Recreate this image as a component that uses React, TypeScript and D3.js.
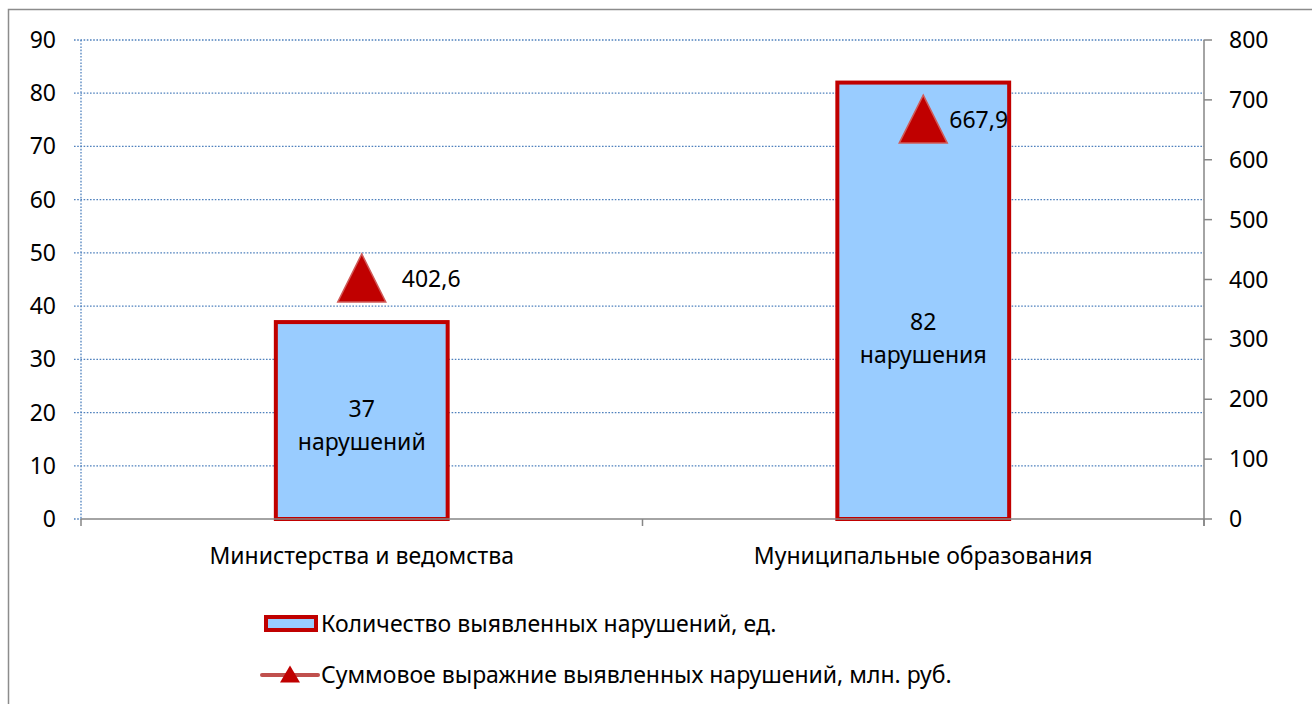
import React, { useEffect, useRef } from "react";
import * as d3 from "d3";

const categories = ["Министерства и ведомства", "Муниципальные образования"];
const violationCounts = [37, 82];
const violationSums = [402.6, 667.9];
const barLabelLines = [
  ["37", "нарушений"],
  ["82", "нарушения"],
];
const leftTicks = [0, 10, 20, 30, 40, 50, 60, 70, 80, 90];
const rightTicks = [0, 100, 200, 300, 400, 500, 600, 700, 800];
const legendLabels = [
  "Количество выявленных нарушений, ед.",
  "Суммовое выражние выявленных нарушений, млн. руб.",
];

const FONT = "'Noto Sans', sans-serif";
const FS = 23;

function App() {
  const svgRef = useRef<SVGSVGElement>(null);

  useEffect(() => {
    const width = 1312;
    const height = 704;
    const margin = { top: 40, left: 81, right: 1204, bottom: 519 };

    const svg = d3.select(svgRef.current);
    svg.selectAll("*").remove();
    svg.attr("width", width).attr("height", height);

    // outer chart frame (bottom/right edges fall outside the picture)
    svg
      .append("rect")
      .attr("x", 8.5)
      .attr("y", 9.5)
      .attr("width", 1400)
      .attr("height", 800)
      .attr("fill", "#fff")
      .attr("stroke", "#8c8c8c")
      .attr("stroke-width", 1.5);

    const x = d3
      .scaleBand()
      .domain(categories)
      .range([margin.left, margin.right])
      .paddingInner(0.694)
      .paddingOuter(0.347);
    const yLeft = d3.scaleLinear().domain([0, 90]).range([margin.bottom, margin.top]);
    const yRight = d3.scaleLinear().domain([0, 800]).range([margin.bottom, margin.top]);

    const dotted = { stroke: "#4f81bd", width: 1.3, dash: "1.6 1.6" };

    // horizontal gridlines
    svg
      .append("g")
      .selectAll("line")
      .data(leftTicks)
      .join("line")
      .attr("x1", margin.left - 7)
      .attr("x2", (d) => (d === 0 ? margin.left : margin.right))
      .attr("y1", (d) => yLeft(d))
      .attr("y2", (d) => yLeft(d))
      .attr("stroke", dotted.stroke)
      .attr("stroke-width", dotted.width)
      .attr("stroke-dasharray", dotted.dash);

    // left axis line (dotted)
    svg
      .append("line")
      .attr("x1", margin.left)
      .attr("x2", margin.left)
      .attr("y1", margin.top)
      .attr("y2", margin.bottom)
      .attr("stroke", dotted.stroke)
      .attr("stroke-width", dotted.width)
      .attr("stroke-dasharray", dotted.dash);

    // left tick labels
    svg
      .append("g")
      .selectAll("text")
      .data(leftTicks)
      .join("text")
      .attr("x", 56)
      .attr("y", (d) => yLeft(d))
      .attr("dy", "0.35em")
      .attr("text-anchor", "end")
      .attr("font-family", FONT)
      .attr("font-size", FS)
      .attr("fill", "#000")
      .text((d) => d);

    // right axis
    const gray = "#868686";
    svg
      .append("line")
      .attr("x1", margin.right)
      .attr("x2", margin.right)
      .attr("y1", margin.top)
      .attr("y2", margin.bottom + 7)
      .attr("stroke", gray)
      .attr("stroke-width", 1.5);
    const rt = svg.append("g").selectAll("g").data(rightTicks).join("g");
    rt.append("line")
      .attr("x1", margin.right)
      .attr("x2", margin.right + 8)
      .attr("y1", (d) => yRight(d))
      .attr("y2", (d) => yRight(d))
      .attr("stroke", gray)
      .attr("stroke-width", 1.5);
    rt.append("text")
      .attr("x", 1229)
      .attr("y", (d) => yRight(d))
      .attr("dy", "0.35em")
      .attr("font-family", FONT)
      .attr("font-size", FS)
      .attr("fill", "#000")
      .text((d) => d);

    // bars
    svg
      .append("g")
      .selectAll("rect")
      .data(violationCounts)
      .join("rect")
      .attr("x", (d, i) => x(categories[i])!)
      .attr("y", (d) => yLeft(d))
      .attr("width", x.bandwidth())
      .attr("height", (d) => yLeft(0) - yLeft(d))
      .attr("fill", "#99ccff")
      .attr("stroke", "#c00000")
      .attr("stroke-width", 4);

    // bottom axis
    svg
      .append("line")
      .attr("x1", margin.left)
      .attr("x2", margin.right)
      .attr("y1", margin.bottom)
      .attr("y2", margin.bottom)
      .attr("stroke", gray)
      .attr("stroke-width", 1.5);
    const boundaries = [margin.left, (margin.left + margin.right) / 2, margin.right];
    svg
      .append("g")
      .selectAll("line")
      .data(boundaries)
      .join("line")
      .attr("x1", (d) => d)
      .attr("x2", (d) => d)
      .attr("y1", margin.bottom)
      .attr("y2", margin.bottom + 7)
      .attr("stroke", gray)
      .attr("stroke-width", 1.5);

    // category labels
    svg
      .append("g")
      .selectAll("text")
      .data(categories)
      .join("text")
      .attr("x", (d) => x(d)! + x.bandwidth() / 2)
      .attr("y", 556)
      .attr("dy", "0.35em")
      .attr("text-anchor", "middle")
      .attr("font-family", FONT)
      .attr("font-size", FS)
      .text((d) => d);

    // labels inside bars (hand placed, as in the source)
    const barLabelTop = [yLeft(violationCounts[0]) + 87, yLeft(violationCounts[1]) + 239];
    barLabelLines.forEach((lines, i) => {
      const cx = x(categories[i])! + x.bandwidth() / 2;
      lines.forEach((t, j) => {
        svg
          .append("text")
          .attr("x", cx)
          .attr("y", barLabelTop[i] + j * 33)
          .attr("dy", "0.35em")
          .attr("text-anchor", "middle")
          .attr("font-family", FONT)
          .attr("font-size", FS)
          .text(t);
      });
    });

    // triangle markers
    const tri = (cx: number, cy: number, w: number, h: number) =>
      `M${cx},${cy - h / 2}L${cx + w / 2},${cy + h / 2}L${cx - w / 2},${cy + h / 2}Z`;
    const labelGap = [16, 2];
    violationSums.forEach((v, i) => {
      const cx = x(categories[i])! + x.bandwidth() / 2;
      const cy = yRight(v);
      svg
        .append("path")
        .attr("d", tri(cx, cy, 48, 48))
        .attr("fill", "#c00000")
        .attr("stroke", "#d05a58")
        .attr("stroke-width", 1.5);
      svg
        .append("text")
        .attr("x", cx + 24 + labelGap[i])
        .attr("y", cy + 1)
        .attr("dy", "0.35em")
        .attr("font-family", FONT)
        .attr("font-size", FS)
        .text(d3.format(".1f")(v).replace(".", ","));
    });

    // legend
    const lg = svg.append("g");
    lg.append("rect")
      .attr("x", 266)
      .attr("y", 617)
      .attr("width", 50)
      .attr("height", 13)
      .attr("fill", "#99ccff")
      .attr("stroke", "#c00000")
      .attr("stroke-width", 4);
    lg.append("line")
      .attr("x1", 262)
      .attr("x2", 318)
      .attr("y1", 675)
      .attr("y2", 675)
      .attr("stroke", "#c0504d")
      .attr("stroke-width", 4)
      .attr("stroke-linecap", "round");
    lg.append("path")
      .attr("d", tri(290, 674, 20, 17))
      .attr("fill", "#c00000");
    lg.selectAll("text")
      .data(legendLabels)
      .join("text")
      .attr("x", 321)
      .attr("y", (d, i) => 624 + i * 51)
      .attr("dy", "0.35em")
      .attr("font-family", FONT)
      .attr("font-size", FS)
      .text((d) => d);
  }, []);

  return <svg ref={svgRef} style={{ position: "absolute", left: 0, top: 0 }} />;
}

export default App;
